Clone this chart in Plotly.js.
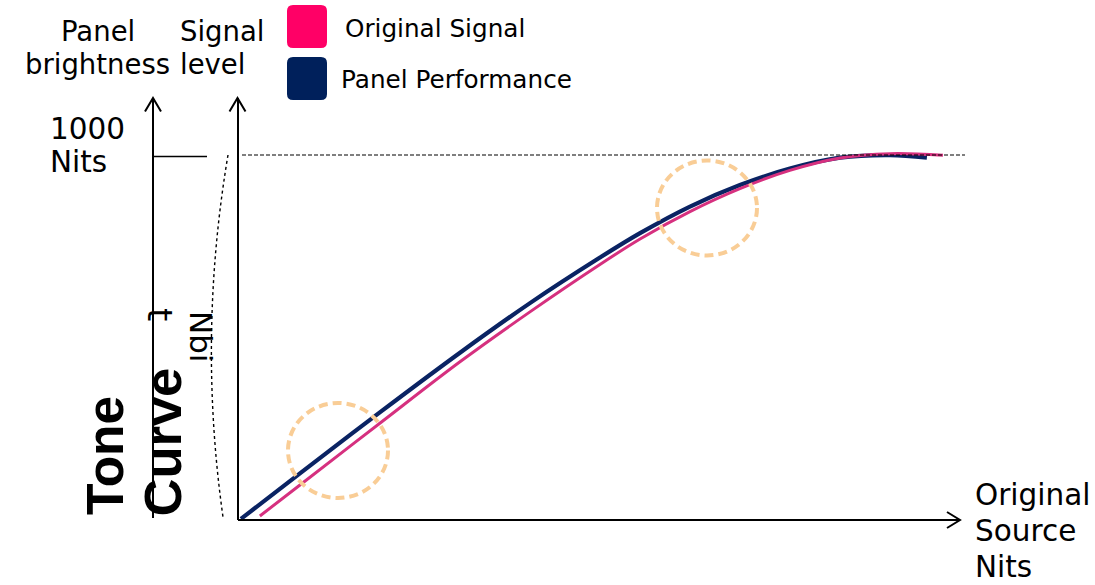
<!DOCTYPE html>
<html>
<head>
<meta charset="utf-8">
<script src="https://cdn.plot.ly/plotly-3.0.1.min.js"></script>
<style>html,body{margin:0;padding:0;background:#fff;}#chart{width:1095px;height:585px;}</style>
</head>
<body>
<div id="chart"></div>
<script>
// ---- data (source nits vs. signal level, 1000 = panel peak) ----
const seriesNames = ["Original Signal", "Panel Performance"];
const originalX = [60, 170, 390, 609, 801, 993, 1103, 1240, 1377, 1514, 1652, 1789, 1934];
const originalY = [11, 96, 266, 434, 571, 701, 771, 846, 909, 959, 993, 1005, 1001];
const panelX = [8, 170, 390, 609, 801, 993, 1103, 1240, 1377, 1514, 1652, 1789, 1890];
const panelY = [3, 128, 296, 459, 595, 720, 787, 860, 919, 964, 994, 1001, 994];
const peakLabel = ["1000", "Nits"];
const xAxisLabel = ["Original", "Source", "Nits"];

// ---- layout helpers: convert page pixels to data units ----
const K = 0.3645, OX = 238, OY = 520, W = 1095, H = 585;
const X = px => (px - OX) / K;
const Y = py => (OY - py) / K;
const P = pts => pts.map((p, i) => (i === 0 ? "M" : "L") + X(p[0]).toFixed(2) + "," + Y(p[1]).toFixed(2)).join(" ");

const black = "#000";
const shapes = [];
function line(x0, y0, x1, y1, w, dash) {
  shapes.push({type: "line", xref: "x", yref: "y", x0: X(x0), y0: Y(y0), x1: X(x1), y1: Y(y1),
    line: {color: black, width: w, dash: dash || "solid"}});
}
function path(d, w, color, dash, fill) {
  shapes.push({type: "path", xref: "x", yref: "y", path: d,
    line: {color: color || black, width: w, dash: dash || "solid"},
    fillcolor: fill || "rgba(0,0,0,0)"});
}
// axes
line(238, 520, 960, 520, 2);
path(P([[947, 512], [960, 520], [947, 528]]), 2);
line(238, 520, 238, 98, 2);
path(P([[229.5, 111.5], [237.5, 98], [245.5, 111.5]]), 2);
line(153, 518, 153, 98, 2);
path(P([[145, 111.5], [153, 98], [161, 111.5]]), 2);
line(153, 156.5, 207, 156.5, 1.5);
line(242, 155, 965, 155, 1.2, "4px,2px");
// dotted arc
path("M" + X(228) + "," + Y(155) + " Q" + X(197.5) + "," + Y(336) + " " + X(223) + "," + Y(517), 1.4, black, "dot");
// highlight circles
[[338, 450.5, 50, 47.5], [707, 208, 50, 47.5]].forEach(c => {
  shapes.push({type: "circle", xref: "x", yref: "y", x0: X(c[0] - c[2]), x1: X(c[0] + c[2]),
    y0: Y(c[1] + c[3]), y1: Y(c[1] - c[3]), line: {color: "#f9cd96", width: 4, dash: "9px,5px"}});
});
// legend swatches (rounded squares)
function rrect(x0, y0, x1, y1, r) {
  return "M" + X(x0 + r) + "," + Y(y0) + " L" + X(x1 - r) + "," + Y(y0) +
    " Q" + X(x1) + "," + Y(y0) + " " + X(x1) + "," + Y(y0 + r) +
    " L" + X(x1) + "," + Y(y1 - r) + " Q" + X(x1) + "," + Y(y1) + " " + X(x1 - r) + "," + Y(y1) +
    " L" + X(x0 + r) + "," + Y(y1) + " Q" + X(x0) + "," + Y(y1) + " " + X(x0) + "," + Y(y1 - r) +
    " L" + X(x0) + "," + Y(y0 + r) + " Q" + X(x0) + "," + Y(y0) + " " + X(x0 + r) + "," + Y(y0) + " Z";
}
path(rrect(287, 5, 327, 48, 6), 0, "rgba(0,0,0,0)", "solid", "#ff0066");
path(rrect(287, 57, 327, 100, 6), 0, "rgba(0,0,0,0)", "solid", "#00205b");

// ---- text ----
const annotations = [];
function ann(text, px, py, o) {
  o = o || {};
  annotations.push({text: text, xref: "x", yref: "y", x: X(px), y: Y(py), showarrow: false,
    xanchor: o.xa || "left", yanchor: o.ya || "middle", textangle: o.angle || 0,
    font: {family: o.family || "DejaVu Sans", size: o.size || 28, color: black,
      weight: o.weight || "normal"}});
}
ann("Panel", 98, 30.5, {xa: "center", size: 27.5});
ann("brightness", 97.5, 63.5, {xa: "center", size: 27.5});
ann("Signal", 178, 30.5, {size: 27.5});
ann("level", 177.5, 63.5, {size: 27.5});
ann(seriesNames[0], 343, 28, {size: 24.7});
ann(seriesNames[1], 339, 79, {size: 24.7});
ann(peakLabel[0], 48, 129, {size: 29.5});
ann(peakLabel[1], 48, 162, {size: 29.5});
ann(xAxisLabel[0], 973, 495, {size: 29.5});
ann(xAxisLabel[1], 973, 531, {size: 29.5});
ann(xAxisLabel[2], 973, 567, {size: 29.5});
ann("Tone", 105, 456, {xa: "center", angle: -90, family: "Liberation Sans", size: 51.5, weight: "bold"});
ann("Curve", 162, 442.5, {xa: "center", angle: -90, family: "Liberation Sans", size: 52.5, weight: "bold"});
ann("Nbi", 201.5, 336.5, {xa: "center", angle: 90, size: 31});
ann("t", 160, 314, {xa: "center", angle: 90, size: 34});

const traces = [
  {x: panelX, y: panelY, name: seriesNames[1], type: "scatter", mode: "lines",
    line: {color: "#0a2363", width: 4.2, shape: "spline", smoothing: 1}},
  {x: originalX, y: originalY, name: seriesNames[0], type: "scatter", mode: "lines",
    line: {color: "#d6307f", width: 3, shape: "spline", smoothing: 1}}
];

const layout = {
  width: W, height: H, margin: {l: 0, r: 0, t: 0, b: 0, pad: 0},
  paper_bgcolor: "#fff", plot_bgcolor: "#fff", showlegend: false,
  xaxis: {range: [X(0), X(W)], visible: false, fixedrange: true},
  yaxis: {range: [Y(H), Y(0)], visible: false, fixedrange: true},
  shapes: shapes, annotations: annotations
};
Plotly.newPlot("chart", traces, layout, {displayModeBar: false, staticPlot: true});
</script>
</body>
</html>
